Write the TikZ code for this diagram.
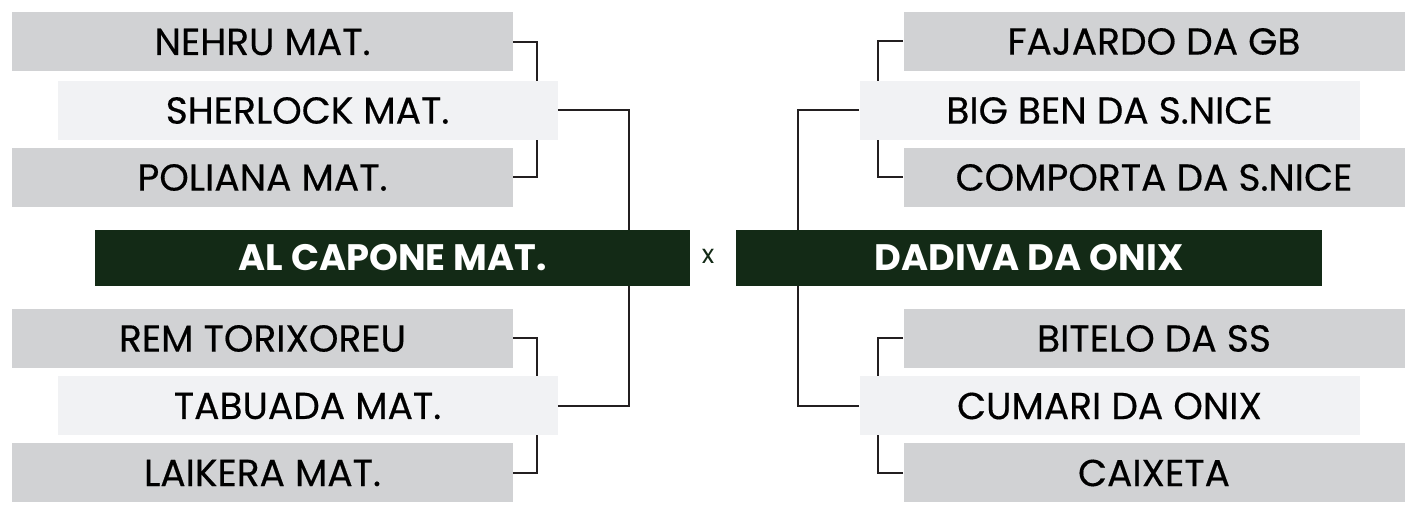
\documentclass[tikz,border=0pt]{standalone}
\usepackage{fontspec}
\setmainfont{Poppins}
\newfontfamily\teamfont{Poppins}[FakeBold=0.4]
\usepackage{tikz}
\usepackage{xcolor}
\definecolor{teamgray}{HTML}{D1D2D4}
\definecolor{teamlight}{HTML}{F1F2F4}
\definecolor{finalgreen}{HTML}{132A16}
\definecolor{linkdark}{HTML}{231F20}

\begin{document}
\begin{tikzpicture}[x=0.5pt, y=-0.5pt,
  team/.style={fill=teamgray, inner sep=0pt, minimum width=250.5pt, minimum height=29.5pt,
    font=\teamfont\fontsize{18.8}{20}\selectfont, text=black},
  seed/.style={team, fill=teamlight, minimum width=250pt},
  final/.style={fill=finalgreen, inner sep=0pt, minimum height=28pt,
    font=\fontsize{18.4}{20}\selectfont\bfseries, text=white},
  link/.style={draw=linkdark, line width=1pt}]
  \useasboundingbox (0,0) rectangle (1415,506);

  % --- left bracket ---
  \node[team] (nehru) at (262.5,42) {NEHRU MAT.};
  \node[team] (poliana) at (262.5,177.5) {POLIANA MAT.};
  \node[team] (rem) at (262.5,338.5) {REM TORIXOREU};
  \node[team] (laikera) at (262.5,473) {LAIKERA MAT.};
  \coordinate (lq) at (537,0);
  \draw[link] (nehru.east) -| (lq |- 0,81);
  \draw[link] (poliana.east) -| (lq |- 0,140);
  \draw[link] (rem.east) -| (lq |- 0,377);
  \draw[link] (laikera.east) -| (lq |- 0,435);
  \node[seed] (sherlock) at (307.5,110.5) {SHERLOCK MAT.};
  \node[seed] (tabuada) at (307.5,406) {TABUADA MAT.};

  % --- right bracket ---
  \node[team] (fajardo) at (1154,41.5) {FAJARDO DA GB};
  \node[team] (comporta) at (1154,177.5) {COMPORTA DA S.NICE};
  \node[team] (bitelo) at (1154,338.5) {BITELO DA SS};
  \node[team] (caixeta) at (1154,473) {CAIXETA};
  \coordinate (rq) at (878,0);
  \draw[link] (fajardo.west) -| (rq |- 0,81);
  \draw[link] (comporta.west) -| (rq |- 0,140);
  \draw[link] (bitelo.west) -| (rq |- 0,377);
  \draw[link] (caixeta.west) -| (rq |- 0,435);
  \node[seed] (bigben) at (1109.5,110.5) {BIG BEN DA S.NICE};
  \node[seed] (cumari) at (1109.5,406) {CUMARI DA ONIX};

  % --- final ---
  \node[final, minimum width=297.5pt] (alcapone) at (392.5,258) {AL CAPONE MAT.};
  \node[final, minimum width=293pt] (dadiva) at (1029,258) {DADIVA DA ONIX};
  \node[font=\fontsize{13}{14}\selectfont, text=finalgreen] (versus) at (708,256) {x};

  % --- semifinal links ---
  \coordinate (ls) at (629,0);
  \coordinate (rs) at (797.5,0);
  \draw[link] (sherlock.east) -| (alcapone.north -| ls);
  \draw[link] (tabuada.east) -| (alcapone.south -| ls);
  \draw[link] (bigben.west) -| (dadiva.north -| rs);
  \draw[link] (cumari.west) -| (dadiva.south -| rs);
\end{tikzpicture}
\end{document}
